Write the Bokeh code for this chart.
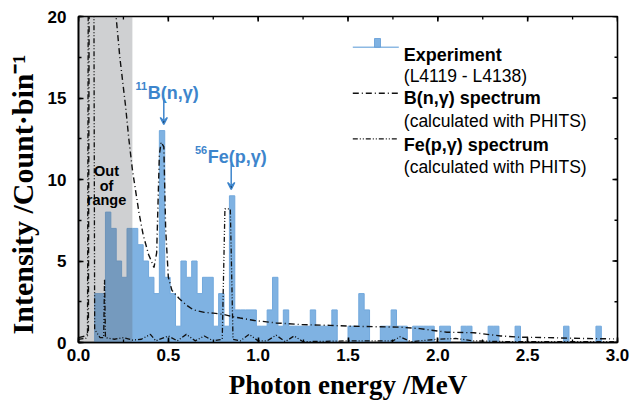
import math
from bokeh.plotting import figure
from bokeh.models import (SingleIntervalTicker, Label, Arrow, VeeHead, PrintfTickFormatter)
from bokeh.embed import file_html
from bokeh.resources import INLINE

# ---------------- data ----------------
bin_width = 0.03  # MeV
# experiment counts per 0.03 MeV bin, from 0.00 to 3.00 MeV (10 bins per row)
counts = [
    0, 0, 0, 3, 3, 8, 7, 5, 4, 7,
    7, 6, 5, 4, 3, 13, 4, 3, 1, 5,
    4, 5, 3, 4, 4, 1, 3, 1, 9, 2,
    2, 2, 2, 1, 1, 2, 4, 1, 2, 1,
    1, 1, 1, 2, 1, 1, 1, 2, 0, 0,
    1, 1, 3, 2, 0, 0, 1, 1, 2, 1,
    1, 0, 1, 1, 1, 1, 0, 1, 1, 0,
    0, 1, 1, 0, 0, 0, 1, 1, 0, 0,
    0, 1, 0, 0, 0, 0, 0, 0, 0, 0,
    1, 0, 0, 0, 0, 0, 1, 0, 0, 0,
]

b_energy = [0.00, 0.04, 0.055, 0.06, 0.19, 0.205, 0.23, 0.262, 0.28, 0.30, 0.336, 0.36,
            0.39, 0.42, 0.435, 0.45, 0.46, 0.475, 0.485, 0.50, 0.52, 0.56, 0.60, 0.64,
            0.70, 0.75, 0.81, 0.85, 0.90, 0.98, 1.10, 1.24, 1.40, 1.51, 1.65, 1.79,
            1.90, 2.05, 2.20, 2.35, 2.45, 2.60, 2.80, 2.98]
b_intensity = [0.3, 0.4, 0.6, 25, 25, 20.5, 17.5, 14.5, 12.5, 10.6, 8.0, 6.6,
               5.4, 4.6, 5.5, 11.5, 12.3, 12.0, 7.0, 4.0, 3.2, 2.7, 2.3, 2.0,
               1.85, 1.8, 1.72, 1.6, 1.5, 1.35, 1.2, 1.1, 1.05, 1.0, 0.97, 0.94,
               0.85, 0.63, 0.6, 0.4, 0.33, 0.3, 0.25, 0.22]

fe_energy = [0.00, 0.04, 0.05, 0.055, 0.085, 0.09, 0.12, 0.14, 0.145, 0.15, 0.20, 0.25,
             0.30, 0.35, 0.40, 0.43, 0.50, 0.55, 0.60, 0.65, 0.70, 0.75, 0.80, 0.815,
             0.845, 0.86, 0.90, 0.95, 1.00, 1.05, 1.10, 1.15, 1.20, 1.25, 1.50, 1.75,
             1.79, 1.85, 2.00, 2.10, 2.20, 2.40, 2.70, 2.98]
fe_intensity = [0.2, 0.25, 0.4, 25, 25, 0.8, 0.3, 0.3, 3.9, 0.3, 0.2, 0.3,
                0.15, 0.2, 0.5, 0.1, 0.4, 0.1, 0.5, 0.1, 0.4, 0.1, 0.2, 8.2,
                8.2, 0.2, 0.1, 0.5, 0.1, 0.1, 0.45, 0.05, 0.4, 0.05, 0.1, 0.1,
                0.35, 0.05, 0.2, 0.25, 0.1, 0.05, 0.05, 0.05]

out_of_range = (0.0, 0.3)  # MeV
x_range = (0.0, 3.0)
y_range = (0.0, 20.0)
x_major, x_minor = 0.5, 0.25
y_major, y_minor = 5, 2.5

# ---------------- layout helpers (annotation placement only) ----------------
W, H = 633, 410
FX0, FX1, FY1, FY0 = 78, 617, 16, 342   # frame in pixels
SX = (FX1 - FX0) / (x_range[1] - x_range[0])
SY = (FY0 - FY1) / (y_range[1] - y_range[0])


def dx(px):
    return (px - FX0) / SX


def dy(py):
    return (FY0 - py) / SY


BAR = "#7fb2e2"
BLUE = "#3d85cc"
SANS = "Liberation Sans"
SERIF = "Liberation Serif"

p = figure(width=W, height=H, x_range=x_range, y_range=y_range,
           output_backend="svg", toolbar_location=None,
           min_border_left=FX0, min_border_right=W - FX1,
           min_border_top=FY1, min_border_bottom=H - FY0)
p.xgrid.grid_line_color = None
p.ygrid.grid_line_color = None
p.outline_line_color = "black"
p.outline_line_width = 1.6
p.background_fill_color = "white"
p.border_fill_color = "white"

# histogram as a stepped filled outline built from the bin counts
hx, hy = [0.0], [0.0]
for i, c in enumerate(counts):
    left = i * bin_width
    hx += [left, left + bin_width]
    hy += [c, c]
hx.append(len(counts) * bin_width)
hy.append(0.0)
p.patch(hx, hy, fill_color=BAR, line_color="#72a8dc", line_width=1.0)

# out-of-range band
p.quad(left=[out_of_range[0]], right=[out_of_range[1]], bottom=[y_range[0]], top=[y_range[1]],
       fill_color="#5f656b", fill_alpha=0.3, line_color=None)

# calculated spectra
p.line(b_energy, b_intensity, line_color="#111111", line_width=1.4, line_dash="6 3 1 3")
p.line(fe_energy, fe_intensity, line_color="#111111", line_width=1.3, line_dash="5 2 1 2 1 2")

# axes styling (bottom / left)
for ax in (p.xaxis[0], p.yaxis[0]):
    ax.axis_line_width = 1.6
    ax.major_tick_in = 5
    ax.major_tick_out = 0
    ax.minor_tick_in = 3
    ax.minor_tick_out = 0
    ax.major_tick_line_width = 1.6
    ax.minor_tick_line_width = 1.3
    ax.major_label_text_font = SANS
    ax.major_label_text_font_style = "bold"
    ax.major_label_text_font_size = "17px"
    ax.major_label_text_color = "black"
    ax.axis_label_text_font = SERIF
    ax.axis_label_text_font_style = "bold"
    ax.axis_label_text_color = "black"

p.xaxis.axis_label_text_font_size = "27px"
p.yaxis.axis_label_text_font_size = "30px"
p.xaxis.ticker = SingleIntervalTicker(interval=x_major, num_minor_ticks=2)
p.yaxis.ticker = SingleIntervalTicker(interval=y_major, num_minor_ticks=2)
p.xaxis.formatter = PrintfTickFormatter(format="%.1f")
p.yaxis.formatter = PrintfTickFormatter(format="%d")
p.xaxis.major_label_standoff = 6
p.yaxis.major_label_standoff = 12
p.xaxis.axis_label = "Photon energy /MeV"
p.xaxis.axis_label_standoff = 6
# two en-spaces at the end push the centred title slightly down, as in the original
p.yaxis.axis_label = "Intensity /Count\u00b7bin\u207b\u00b9\u2002\u2002"
p.yaxis.axis_label_standoff = 6

# inward ticks on the top and right frame edges
top_major = [x_range[0] + k * x_major for k in range(int(round((x_range[1] - x_range[0]) / x_major)) + 1)]
top_minor = [x_range[0] + k * x_minor for k in range(int(round((x_range[1] - x_range[0]) / x_minor)) + 1)]
right_major = [y_range[0] + k * y_major for k in range(int(round((y_range[1] - y_range[0]) / y_major)) + 1)]
right_minor = [y_range[0] + k * y_minor for k in range(int(round((y_range[1] - y_range[0]) / y_minor)) + 1)]
p.segment(x0=top_minor, x1=top_minor, y0=[y_range[1]] * len(top_minor),
          y1=[y_range[1] - 3 / SY] * len(top_minor), line_color="black", line_width=1.3)
p.segment(x0=top_major, x1=top_major, y0=[y_range[1]] * len(top_major),
          y1=[y_range[1] - 5 / SY] * len(top_major), line_color="black", line_width=1.6)
p.segment(x0=[x_range[1]] * len(right_minor), x1=[x_range[1] - 3 / SX] * len(right_minor),
          y0=right_minor, y1=right_minor, line_color="black", line_width=1.3)
p.segment(x0=[x_range[1]] * len(right_major), x1=[x_range[1] - 5 / SX] * len(right_major),
          y0=right_major, y1=right_major, line_color="black", line_width=1.6)


def lab(text, px, py, size, bold=True, align="left", baseline="alphabetic",
        color="black", font=SANS, angle=0.0):
    p.add_layout(Label(x=dx(px), y=dy(py), text=text, text_font=font,
                       text_font_size=f"{size}px",
                       text_font_style="bold" if bold else "normal",
                       text_align=align, text_baseline=baseline,
                       text_color=color, angle=angle))


# out of range
lab("Out", 106, 170, 14.5, align="center")
lab("of", 106, 185, 14.5, align="center")
lab("range", 106, 199.5, 14.5, align="center")

# peak annotations
lab("11", 146.7, 85, 11, align="right", color=BLUE)
lab("B(n,\u03b3)", 147.3, 92.7, 18, color=BLUE)
lab("56", 206.7, 149, 11, align="right", color=BLUE)
lab("Fe(p,\u03b3)", 207.3, 156, 18, color=BLUE)
p.add_layout(Arrow(end=VeeHead(size=7, line_color=BLUE, line_width=1.5),
                   x_start=dx(163.3), y_start=dy(98), x_end=dx(163.3), y_end=dy(124),
                   line_color=BLUE, line_width=1.5))
p.add_layout(Arrow(end=VeeHead(size=7, line_color=BLUE, line_width=1.5),
                   x_start=dx(230.7), y_start=dy(163), x_end=dx(230.7), y_end=dy(189),
                   line_color=BLUE, line_width=1.5))

# legend
p.line([dx(352.3), dx(398.3)], [dy(46.7), dy(46.7)], line_color="#8db9e3", line_width=1.5)
p.quad(left=[dx(374)], right=[dx(380)], bottom=[dy(46.7)], top=[dy(38)],
       fill_color=BAR, line_color="#5f9bd6", line_width=0.8)
p.line([dx(352.3), dx(398.3)], [dy(92.7), dy(92.7)], line_color="#111111", line_width=1.4,
       line_dash="6 3 1 3")
p.line([dx(352.3), dx(398.3)], [dy(138.3), dy(138.3)], line_color="#111111", line_width=1.3,
       line_dash="5 2 1 2 1 2")
lab("Experiment", 403.3, 54.3, 18)
lab("(L4119 - L4138)", 403.3, 75, 17.5, bold=False)
lab("B(n,\u03b3) spectrum", 403.3, 97.3, 18)
lab("(calculated with PHITS)", 403.3, 120, 17.5, bold=False)
lab("Fe(p,\u03b3) spectrum", 403.3, 144, 18)
lab("(calculated with PHITS)", 403.3, 166.7, 17.5, bold=False)

open("out.html", "w").write(file_html(p, INLINE))
